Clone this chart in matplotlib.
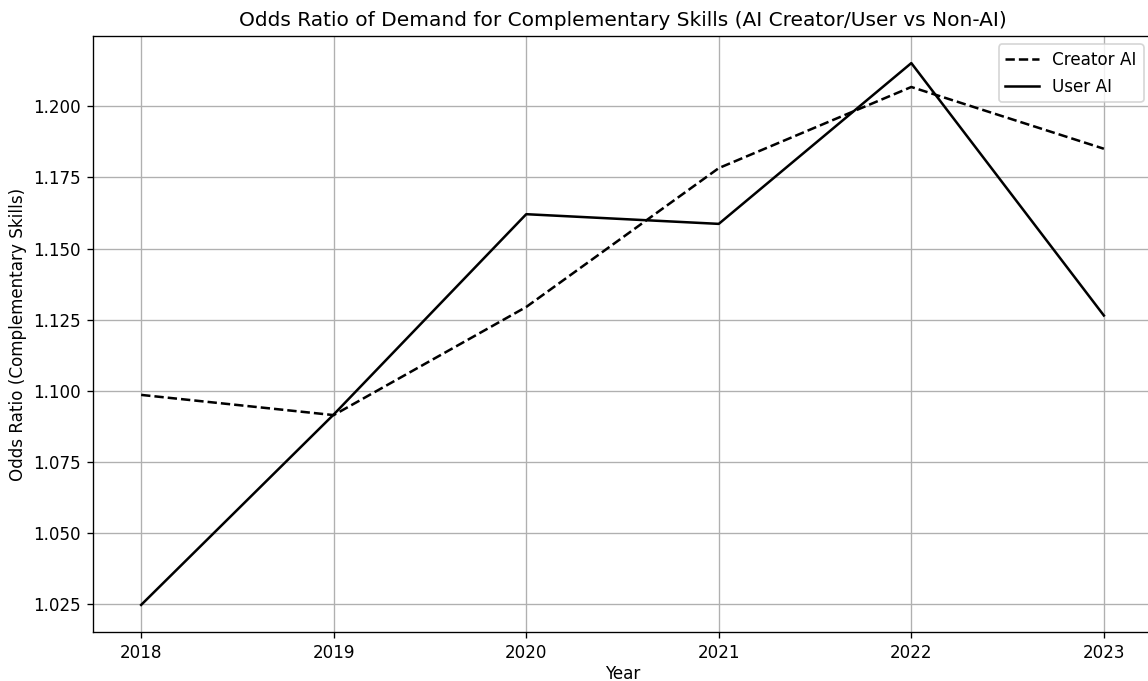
import matplotlib
matplotlib.use('Agg')
import matplotlib.pyplot as plt

# ---------------------------
# Data
# ---------------------------
years = [2018, 2019, 2020, 2021, 2022, 2023]
creator_ai = [1.0986, 1.0915, 1.1295, 1.1783, 1.2068, 1.1851]
user_ai = [1.0248, 1.0917, 1.1621, 1.1587, 1.2152, 1.1265]

# ---------------------------
# Plot
# ---------------------------
# reference looks like a default figure rendered at a slightly higher dpi
DPI = 121
fig = plt.figure(figsize=(1148 / DPI, 681 / DPI), dpi=DPI)
# axes extend a little past the right edge, like the cropped reference
ax = fig.add_axes([93 / 1148, 49 / 681, 1059 / 1148, 596 / 681])

ax.plot(years, creator_ai, linestyle='--', color='black', label='Creator AI')
ax.plot(years, user_ai, linestyle='-', color='black', label='User AI')

ax.set_title('Odds Ratio of Demand for Complementary Skills (AI Creator/User vs Non-AI)')
ax.set_xlabel('Year', labelpad=2)
ax.set_ylabel('Odds Ratio (Complementary Skills)')
ax.set_xticks(years)
ax.legend(loc='upper right')
ax.grid(True)

fig.savefig('out.png', dpi=DPI)
